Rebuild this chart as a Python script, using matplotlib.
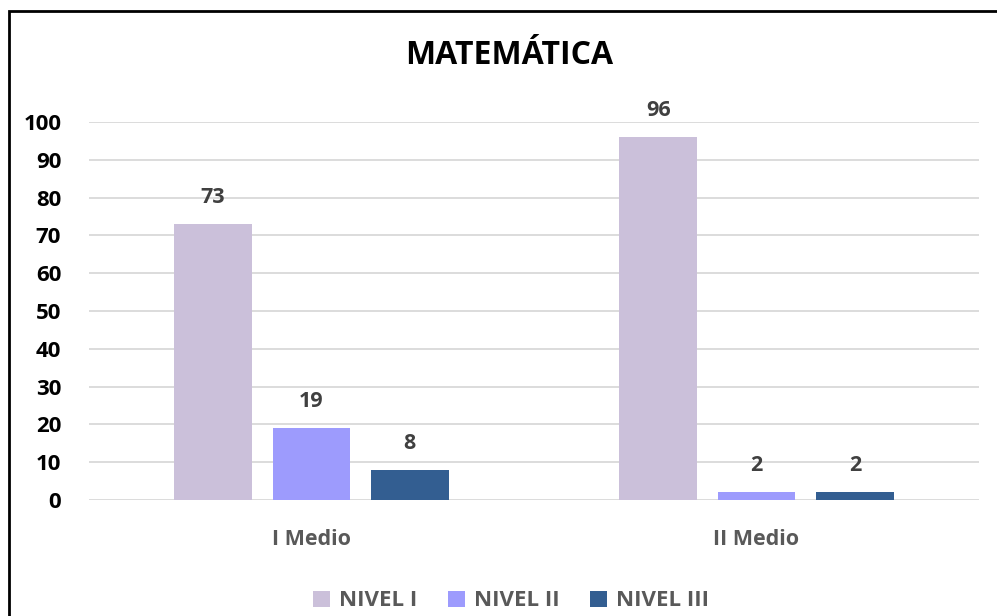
import numpy as np
import matplotlib
matplotlib.use("Agg")
import matplotlib.pyplot as plt
from matplotlib.patches import Rectangle, Patch

plt.rcParams["font.family"] = ["Open Sans", "DejaVu Sans"]

categories = ["I Medio", "II Medio"]
series_names = ["NIVEL I", "NIVEL II", "NIVEL III"]
nivel_1 = [73, 96]
nivel_2 = [19, 2]
nivel_3 = [8, 2]
colors = ["#cbc0da", "#9d9bfd", "#335e91"]

fig = plt.figure(figsize=(9.97, 6.16), dpi=100)
ax = fig.add_axes([89 / 997, 116 / 616, 890 / 997, 378 / 616])

x = np.arange(len(categories))
width = 0.175
offsets = [-0.221, 0.0, 0.221]
for vals, off, col in zip([nivel_1, nivel_2, nivel_3], offsets, colors):
    bars = ax.bar(x + off, vals, width, color=col, zorder=3)
    for b, v in zip(bars, vals):
        ax.text(b.get_x() + b.get_width() / 2, v + 4.3, str(v), ha="center", va="bottom",
                fontsize=15.5, fontweight="bold", color="#404040")

ax.set_xlim(-0.5, 1.5)
ax.set_ylim(0, 100)
ax.set_yticks(np.arange(0, 101, 10))
ax.yaxis.grid(True, color="#d9d9d9", linewidth=1.3, zorder=0)
ax.set_axisbelow(True)
for s in ax.spines.values():
    s.set_visible(False)
ax.tick_params(axis="both", length=0)
ax.tick_params(axis="y", pad=20, labelsize=16)
ax.tick_params(axis="x", pad=21, labelsize=15.5, labelcolor="#595959")
ax.set_xticks(x)
ax.set_xticklabels(categories)
for lbl in ax.get_yticklabels() + ax.get_xticklabels():
    lbl.set_fontweight("bold")

fig.text(509 / 997, 1 - 55 / 616, "MATEMÁTICA", ha="center", va="center",
         fontsize=23, fontweight="bold", color="black")

handles = [Patch(facecolor=c, label=n) for c, n in zip(colors, series_names)]
leg = fig.legend(handles=handles, loc="center", bbox_to_anchor=(511 / 997, 1 - 601 / 616),
                 ncol=3, frameon=False, handlelength=0.75, handleheight=0.75,
                 handletextpad=0.4, columnspacing=1.4,
                 prop={"size": 16, "weight": "bold"})
for t in leg.get_texts():
    t.set_color("#595959")

fig.patches.append(Rectangle((9 / 997, -0.1), 1.2, 1 - 11 / 616 + 0.1, transform=fig.transFigure,
                             fill=False, edgecolor="black", linewidth=2))

fig.savefig("out.png", dpi=100)
